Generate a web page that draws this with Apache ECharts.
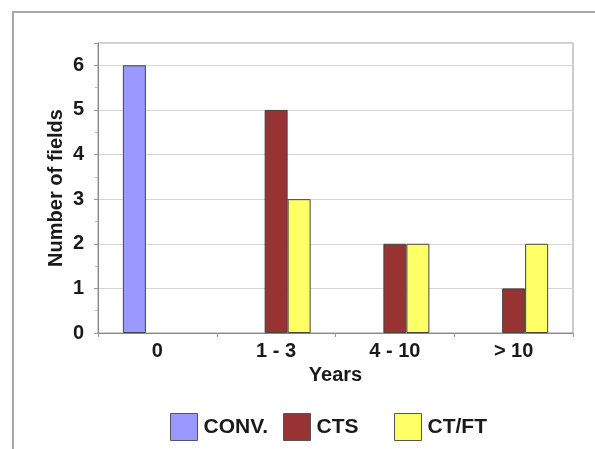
<!DOCTYPE html>
<html>
<head>
<meta charset="utf-8">
<script src="https://cdn.jsdelivr.net/npm/echarts@6/dist/echarts.min.js"></script>
<style>
  html, body { margin: 0; padding: 0; background: #ffffff; }
  #chart { width: 595px; height: 449px; }
</style>
</head>
<body>
<div id="chart"></div>
<script>
// Fields per farming system, grouped by years since conversion
const categories = ['0', '1 - 3', '4 - 10', '> 10'];
const seriesNames = ['CONV.', 'CTS', 'CT/FT'];
const convValues = [6, 0, 0, 0];
const ctsValues = [0, 5, 2, 1];
const ctftValues = [0, 3, 2, 2];
const yTicks = [0, 1, 2, 3, 4, 5, 6];

const colors = ['#9999FF', '#993333', '#FFFF66'];
const font = 'Liberation Sans, Arial, sans-serif';
const textColor = '#1a1a1a';

// empty groups draw no bar at all
const asBars = arr => arr.map(v => (v === 0 ? '-' : v));

const chart = echarts.init(document.getElementById('chart'), null, { renderer: 'canvas' });

function legendAt(name, left) {
  return {
    data: [name],
    left: left,
    top: 413,
    itemWidth: 27,
    itemHeight: 27,
    itemGap: 0,
    padding: 0,
    icon: 'rect',
    selectedMode: false,
    textStyle: { fontFamily: font, fontWeight: 'bold', fontSize: 21, color: textColor, padding: [0, 0, 0, 1] },
    itemStyle: { borderColor: '#555', borderWidth: 1 }
  };
}

const option = {
  backgroundColor: '#ffffff',
  animation: false,
  color: colors,
  graphic: [{
    type: 'rect',
    shape: { x: 13, y: 12, width: 700, height: 600 },
    style: { fill: 'none', stroke: '#a8a8a8', lineWidth: 2 },
    silent: true
  }],
  legend: [
    legendAt(seriesNames[0], 170),
    legendAt(seriesNames[1], 283),
    legendAt(seriesNames[2], 394)
  ],
  grid: {
    left: 98, right: 22, top: 43, bottom: 116,
    show: true, borderColor: '#9a9a9a', borderWidth: 1
  },
  xAxis: {
    type: 'category',
    data: categories,
    name: 'Years',
    nameLocation: 'middle',
    nameGap: 32,
    nameMoveOverlap: false,
    nameTextStyle: { fontFamily: font, fontWeight: 'bold', fontSize: 20, color: textColor },
    axisLine: { lineStyle: { color: '#888', width: 1 } },
    axisTick: { show: true, alignWithLabel: false, length: 4, lineStyle: { color: '#999' } },
    axisLabel: { fontFamily: font, fontWeight: 'bold', fontSize: 20, color: textColor, margin: 8 }
  },
  yAxis: {
    type: 'value',
    min: 0,
    max: 6.5,
    interval: 1,
    name: 'Number of fields',
    nameLocation: 'middle',
    nameGap: 32,
    nameMoveOverlap: false,
    nameTextStyle: { fontFamily: font, fontWeight: 'bold', fontSize: 20, color: textColor },
    axisLine: { show: true, lineStyle: { color: '#888', width: 1 } },
    axisTick: { show: true, length: 4, lineStyle: { color: '#999' } },
    minorTick: { show: true, splitNumber: 2, length: 3, lineStyle: { color: '#bbb' } },
    splitLine: { show: true, lineStyle: { color: '#d6d6d6', width: 1 } },
    axisLabel: {
      fontFamily: font, fontWeight: 'bold', fontSize: 20, color: textColor, margin: 14,
      formatter: v => (yTicks.indexOf(v) >= 0 ? String(v) : '')
    }
  },
  series: [
    { name: seriesNames[0], data: asBars(convValues) },
    { name: seriesNames[1], data: asBars(ctsValues) },
    { name: seriesNames[2], data: asBars(ctftValues) }
  ].map(s => Object.assign({
    type: 'bar',
    barWidth: 23,
    barGap: '0%',
    itemStyle: { borderColor: '#444', borderWidth: 1 }
  }, s))
};

chart.setOption(option);
</script>
</body>
</html>
